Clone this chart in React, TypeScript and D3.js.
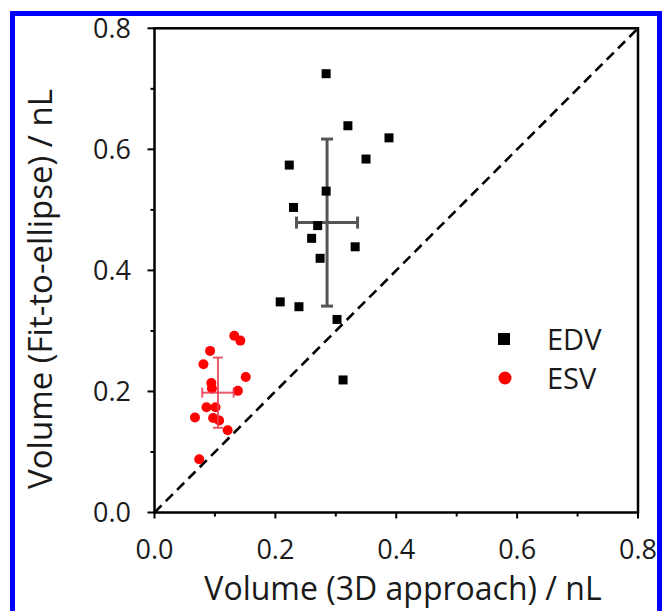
import React from "react";
import * as d3 from "d3";

// EDV (black squares): 3D approach (x) vs fit-to-ellipse (y), nL
const edvX = [0.284, 0.320, 0.388, 0.350, 0.223, 0.284, 0.230, 0.270, 0.260, 0.332, 0.274, 0.208, 0.239, 0.302, 0.312];
const edvY = [0.725, 0.639, 0.619, 0.584, 0.574, 0.531, 0.504, 0.474, 0.453, 0.439, 0.420, 0.348, 0.340, 0.319, 0.219];
// ESV (red circles)
const esvX = [0.132, 0.142, 0.092, 0.081, 0.151, 0.094, 0.095, 0.138, 0.086, 0.101, 0.067, 0.097, 0.107, 0.121, 0.074];
const esvY = [0.292, 0.284, 0.267, 0.245, 0.224, 0.214, 0.205, 0.201, 0.174, 0.174, 0.157, 0.156, 0.152, 0.136, 0.088];
// mean ± SD error bars [meanX, sdX, meanY, sdY]
const edvStats = [0.2855, 0.0505, 0.479, 0.138];
const esvStats = [0.105, 0.026, 0.198, 0.058];

const majorTicks = [0, 0.2, 0.4, 0.6, 0.8];
const minorTicks = [0.1, 0.3, 0.5, 0.7];
const legendLabels = ["EDV", "ESV"];

const FONT = "'Open Sans', 'Noto Sans', sans-serif";

export default function App() {
  const W = 662, H = 611;
  const x = d3.scaleLinear().domain([0, 0.8]).range([154.5, 638]);
  const y = d3.scaleLinear().domain([0, 0.8]).range([512.5, 28.3]);
  const fmt = d3.format(".1f");
  const axisW = 2.5;
  const sq = 9;
  const r = 5;

  const errBar = (s: number[], color: string, w: number, cap: number, key: string) => {
    const [mx, sx, my, sy] = s;
    return (
      <g key={key} stroke={color} strokeWidth={w} fill="none">
        <line x1={x(mx)} x2={x(mx)} y1={y(my - sy)} y2={y(my + sy)} />
        <line x1={x(mx - sx)} x2={x(mx + sx)} y1={y(my)} y2={y(my)} />
        <line x1={x(mx) - cap} x2={x(mx) + cap} y1={y(my - sy)} y2={y(my - sy)} />
        <line x1={x(mx) - cap} x2={x(mx) + cap} y1={y(my + sy)} y2={y(my + sy)} />
        <line x1={x(mx - sx)} x2={x(mx - sx)} y1={y(my) - cap} y2={y(my) + cap} />
        <line x1={x(mx + sx)} x2={x(mx + sx)} y1={y(my) - cap} y2={y(my) + cap} />
      </g>
    );
  };

  return (
    <svg width={W} height={H} style={{ position: "absolute", left: 0, top: 0, background: "#fff" }}>
      <rect x={0} y={0} width={W} height={H} fill="#fff" />

      {/* diagonal dashed line */}
      <line x1={x(0)} y1={y(0)} x2={x(0.8)} y2={y(0.8)} stroke="#000" strokeWidth={2.6} strokeDasharray="10,6" />

      {/* error bars */}
      {errBar(edvStats, "#555", 3, 6, "edv")}

      {/* EDV squares */}
      {edvX.map((v, i) => (
        <rect key={"e" + i} x={x(v) - sq / 2} y={y(edvY[i]) - sq / 2} width={sq} height={sq} fill="#000" />
      ))}
      {/* ESV circles */}
      {esvX.map((v, i) => (
        <circle key={"s" + i} cx={x(v)} cy={y(esvY[i])} r={r} fill="#ff0000" />
      ))}
      {errBar(esvStats, "rgba(230,60,80,0.85)", 2, 5, "esv")}

      {/* frame */}
      <rect x={x(0)} y={y(0.8)} width={x(0.8) - x(0)} height={y(0) - y(0.8)} fill="none" stroke="#000" strokeWidth={axisW} />

      {/* ticks */}
      <g stroke="#000" strokeWidth={2}>
        {majorTicks.map((t) => (
          <line key={"xm" + t} x1={x(t)} x2={x(t)} y1={y(0)} y2={y(0) + 6} />
        ))}
        {minorTicks.map((t) => (
          <line key={"xn" + t} x1={x(t)} x2={x(t)} y1={y(0)} y2={y(0) + 4} />
        ))}
        {majorTicks.map((t) => (
          <line key={"ym" + t} x1={x(0)} x2={x(0) - 7} y1={y(t)} y2={y(t)} />
        ))}
        {minorTicks.map((t) => (
          <line key={"yn" + t} x1={x(0)} x2={x(0) - 4} y1={y(t)} y2={y(t)} />
        ))}
      </g>

      {/* tick labels */}
      <g fontFamily={FONT} fontSize={27} fill="#1a1a1a">
        {majorTicks.map((t) => (
          <text key={"xl" + t} x={x(t)} y={559} textAnchor="middle">{fmt(t)}</text>
        ))}
        {majorTicks.map((t) => (
          <text key={"yl" + t} x={131} y={y(t)} dy="0.36em" textAnchor="end">{fmt(t)}</text>
        ))}
      </g>

      {/* axis titles */}
      <text x={403} y={600} textAnchor="middle" fontFamily={FONT} fontSize={32} fill="#1a1a1a">
        Volume (3D approach) / nL
      </text>
      <text
        transform={`translate(52,${289}) rotate(-90)`}
        textAnchor="middle"
        fontFamily={FONT}
        fontSize={33}
        fill="#1a1a1a"
      >
        Volume (Fit-to-ellipse) / nL
      </text>

      {/* legend */}
      <rect x={504 - 6} y={339 - 6} width={12} height={12} fill="#000" />
      <circle cx={505} cy={378} r={6.5} fill="#ff0000" />
      <g fontFamily={FONT} fontSize={29} fill="#1a1a1a">
        <text x={547} y={340} dy="0.36em">{legendLabels[0]}</text>
        <text x={547} y={379} dy="0.36em">{legendLabels[1]}</text>
      </g>

      {/* blue frame */}
      <rect x={12.5} y={13.5} width={647} height={640} fill="none" stroke="#0000ff" strokeWidth={5} />
    </svg>
  );
}
